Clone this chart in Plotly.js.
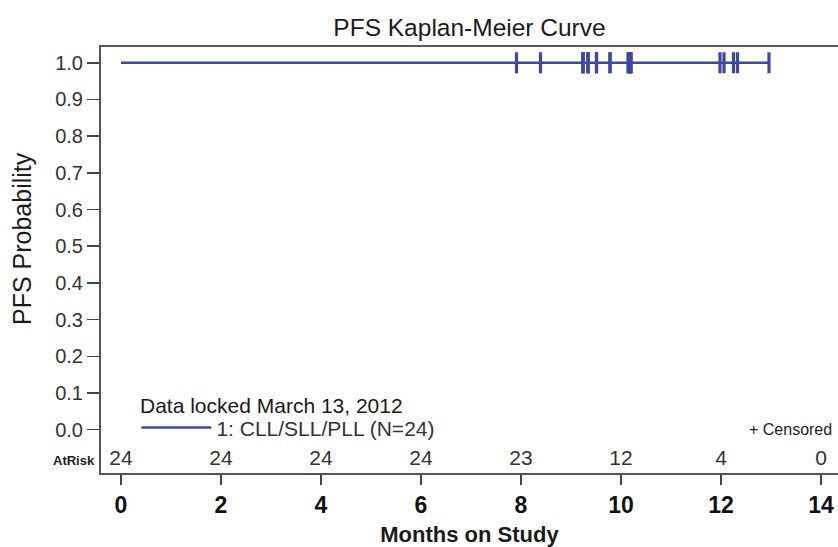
<!DOCTYPE html>
<html><head><meta charset="utf-8">
<script src="https://cdn.plot.ly/plotly-3.0.1.min.js"></script>
<style>body{margin:0;background:#fff}#c{width:838px;height:547px}</style>
</head><body><div id="c"></div>
<script>
// Data
const curveMonths = [0, 12.96];
const curveSurv = [1.0, 1.0];
const censorMonths = [7.91, 8.39, 9.24, 9.24, 9.24, 9.34, 9.34, 9.34, 9.51, 9.51, 9.78, 9.78,
  10.14, 10.16, 10.16, 10.18, 10.18, 10.2, 10.2, 11.98, 12.06, 12.25, 12.33, 12.96];
const riskMonths = [0, 2, 4, 6, 8, 10, 12, 14];
const riskCounts = [24, 24, 24, 24, 23, 12, 4, 0];
const yTicks = [0, 0.1, 0.2, 0.3, 0.4, 0.5, 0.6, 0.7, 0.8, 0.9, 1.0];
const xTicks = [0, 2, 4, 6, 8, 10, 12, 14];

const blue = '#3d47a6';
const FONT = 'Liberation Sans, Arial, sans-serif';
const traces = [
  {x: curveMonths, y: curveSurv, mode: 'lines', line: {color: blue, width: 2.5, shape: 'hv'},
   name: '1: CLL/SLL/PLL (N=24)', showlegend: true},
  {x: censorMonths, y: censorMonths.map(() => 1.0), mode: 'markers', showlegend: false,
   marker: {symbol: 'line-ns-open', size: 15, color: blue, line: {color: blue, width: 3.2}}},
  {x: riskMonths, y: riskMonths.map(() => -0.083), mode: 'text', text: riskCounts.map(String),
   textfont: {family: FONT, size: 21, color: '#333'},
   showlegend: false, cliponaxis: false, hoverinfo: 'skip'}
];
const layout = {
  width: 838, height: 547,
  margin: {l: 101, r: 0, t: 47, b: 74},
  paper_bgcolor: '#fff', plot_bgcolor: '#fff',
  font: {family: FONT, color: '#222'},
  title: {text: 'PFS Kaplan-Meier Curve', x: 0.5, xref: 'paper', y: 0.95, yanchor: 'middle',
          font: {size: 24.5, color: '#1a1a1a'}},
  xaxis: {range: [-0.4, 14.34], tickvals: xTicks, ticktext: xTicks.map(String),
    showgrid: false, zeroline: false, showline: true, linecolor: '#555', linewidth: 2, mirror: true,
    ticks: 'outside', ticklen: 10, tickwidth: 1.5, tickcolor: '#444',
    tickfont: {size: 23, color: '#111', weight: 'bold'},
    title: {text: 'Months on Study', font: {size: 22, color: '#1a1a1a', weight: 'bold'}, standoff: 10}},
  yaxis: {range: [-0.118, 1.043], tickvals: yTicks, ticktext: yTicks.map(v => v.toFixed(1)),
    showgrid: false, zeroline: false, showline: true, linecolor: '#555', linewidth: 2,
    ticks: 'outside', ticklen: 12, tickwidth: 1.5, tickcolor: '#444',
    tickfont: {size: 20, color: '#333'}},
  showlegend: true,
  legend: {x: 0.048, xanchor: 'left', y: 0.106, yanchor: 'middle', bgcolor: 'rgba(0,0,0,0)',
    itemwidth: 70, font: {size: 21, color: '#333'}},
  annotations: [
    {text: 'PFS Probability', textangle: -90, xref: 'paper', yref: 'y', x: -0.107, y: 0.52,
     xanchor: 'center', yanchor: 'middle', showarrow: false, font: {size: 25, color: '#1a1a1a'}},
    {text: 'Data locked March 13, 2012', xref: 'paper', yref: 'y', x: 0.05, y: 0.067,
     xanchor: 'left', yanchor: 'middle', showarrow: false, font: {size: 21, color: '#1a1a1a'}},
    {text: '+ Censored', xref: 'paper', yref: 'y', x: 0.995, y: 0.0, xanchor: 'right', yanchor: 'middle',
     showarrow: false, font: {size: 16, color: '#222'}},
    {text: 'AtRisk', xref: 'paper', yref: 'y', x: -0.006, y: -0.083, xanchor: 'right', yanchor: 'middle',
     showarrow: false, font: {size: 13, color: '#222', weight: 'bold'}}
  ]
};
Plotly.newPlot('c', traces, layout, {displayModeBar: false, staticPlot: true});
</script></body></html>
